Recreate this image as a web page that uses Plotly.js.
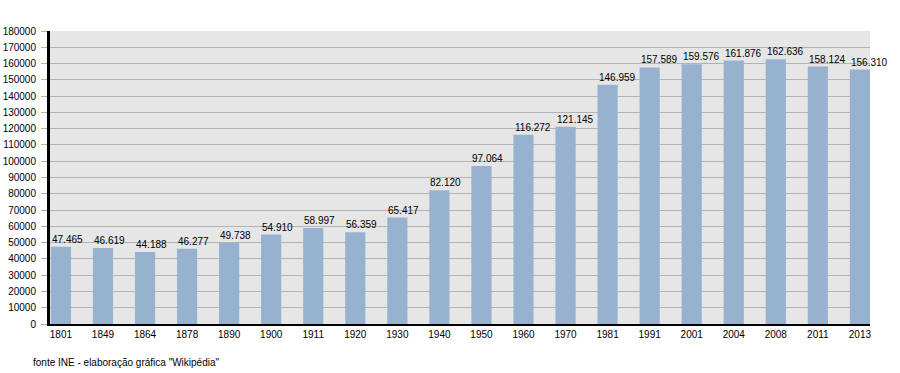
<!DOCTYPE html>
<html>
<head>
<meta charset="utf-8">
<script src="https://cdn.plot.ly/plotly-3.0.1.min.js"></script>
<style>html,body{margin:0;padding:0;background:#fff;}#chart{width:900px;height:373px;}</style>
</head>
<body>
<div id="chart"></div>
<script>
const years = ["1801","1849","1864","1878","1890","1900","1911","1920","1930","1940","1950","1960","1970","1981","1991","2001","2004","2008","2011","2013"];
const population = [47465,46619,44188,46277,49738,54910,58997,56359,65417,82120,97064,116272,121145,146959,157589,159576,161876,162636,158124,156310];
const valueLabels = ["47.465","46.619","44.188","46.277","49.738","54.910","58.997","56.359","65.417","82.120","97.064","116.272","121.145","146.959","157.589","159.576","161.876","162.636","158.124","156.310"];
const sourceNote = 'fonte INE - elaboração gráfica "Wikipédia"';

const xIdx = years.map((_, i) => i);
const FONT = 'Liberation Sans, Arial, sans-serif';

const labelAnnotations = xIdx.map(i => ({
  x: i, y: population[i], xref: 'x', yref: 'y',
  text: valueLabels[i],
  showarrow: false,
  xanchor: 'left', yanchor: 'bottom',
  xshift: -11, yshift: 0,
  font: {family: FONT, size: 10, color: '#000'}
}));

Plotly.newPlot('chart', [{
  type: 'bar',
  x: xIdx,
  y: population,
  marker: {color: '#97b2cf', line: {width: 0}},
  width: 0.48,
  hoverinfo: 'none'
}], {
  width: 900, height: 373,
  margin: {l: 50, r: 30, t: 31, b: 49},
  paper_bgcolor: '#ffffff',
  plot_bgcolor: '#e6e6e6',
  font: {family: FONT, size: 10, color: '#000'},
  showlegend: false,
  xaxis: {
    range: [-0.26, 19.24],
    tickmode: 'array',
    tickvals: xIdx,
    ticktext: years,
    showgrid: false,
    zeroline: false,
    showline: true,
    linecolor: '#000',
    linewidth: 2,
    ticks: '',
    tickfont: {size: 10}
  },
  yaxis: {
    range: [0, 180000],
    dtick: 10000,
    tick0: 0,
    showgrid: true,
    gridcolor: '#b3b3b3',
    gridwidth: 1,
    zeroline: false,
    showline: true,
    linecolor: '#000',
    linewidth: 3,
    ticks: 'outside',
    ticklen: 6,
    tickcolor: '#b3b3b3',
    tickformat: 'd',
    ticklabelstandoff: 3,
    tickfont: {size: 10}
  },
  annotations: labelAnnotations.concat([{
    text: sourceNote,
    xref: 'paper', yref: 'paper',
    x: (31 - 50) / 820,
    y: -(362 - 324) / 293,
    xanchor: 'left', yanchor: 'middle',
    showarrow: false,
    font: {size: 10, color: '#000'}
  }])
}, {displayModeBar: false, staticPlot: true});
</script>
</body>
</html>
